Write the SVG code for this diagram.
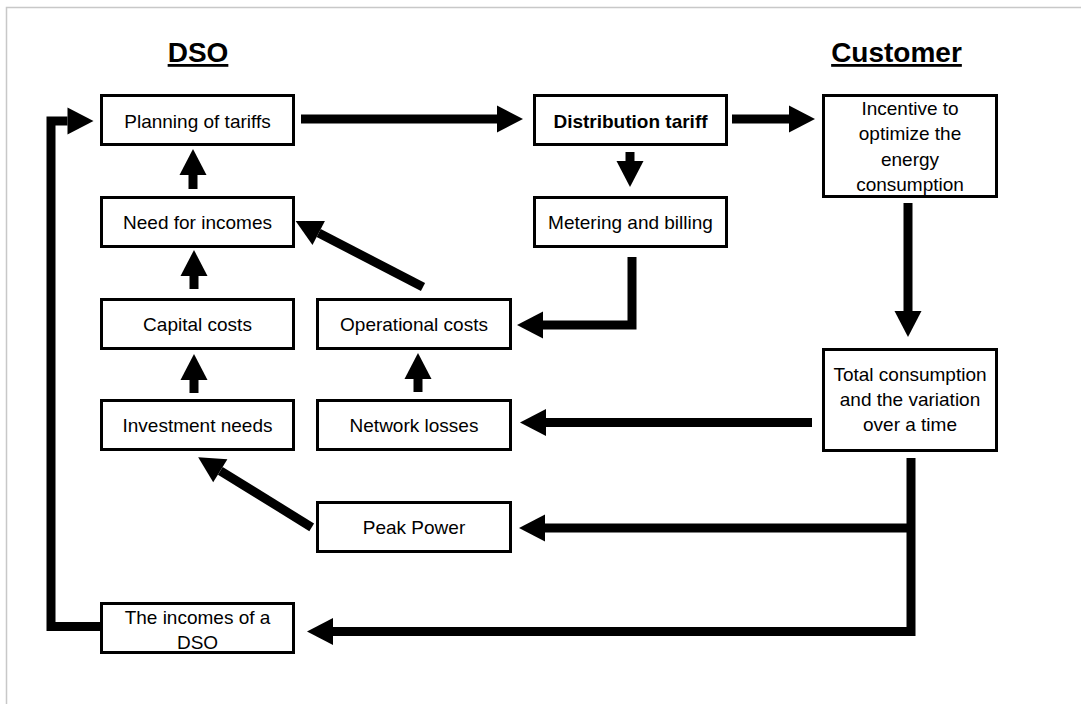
<svg xmlns="http://www.w3.org/2000/svg" width="1081" height="704" viewBox="0 0 1081 704">
  <style>
    .box { fill: #ffffff; stroke: #000000; stroke-width: 3; }
    .lbl { font-family: "Liberation Sans", Arial, sans-serif; font-size: 19px; fill: #000000; text-anchor: middle; }
    .bold { font-weight: bold; }
    .head { font-family: "Liberation Sans", Arial, sans-serif; font-size: 28px; font-weight: bold; fill: #000000; text-anchor: middle; text-decoration: underline; }
    .flow { fill: none; stroke: #000000; stroke-width: 9; stroke-linejoin: miter; stroke-linecap: butt; marker-end: url(#head); }
    .flow-plain { fill: none; stroke: #000000; stroke-width: 9; stroke-linejoin: miter; stroke-linecap: butt; }
  </style>
  <defs>
    <marker id="head" markerUnits="userSpaceOnUse" markerWidth="27" markerHeight="27" refX="0" refY="13.5" orient="auto" overflow="visible">
      <path d="M0,0 L26,13.5 L0,27 Z" fill="#000000"/>
    </marker>
  </defs>

  <!-- page background and frame -->
  <rect x="0" y="0" width="1081" height="704" fill="#ffffff"/>
  <path d="M6.5,704 V7.5 H1081" fill="none" stroke="#c8c8c8" stroke-width="1.5"/>

  <!-- column headings -->
  <g id="heading-dso"><text class="head" x="198" y="62">DSO</text></g>
  <g id="heading-customer"><text class="head" x="896.5" y="62">Customer</text></g>

  <!-- connectors -->
  <g id="connectors">
    <path class="flow" d="M301,119 H497"/>
    <path class="flow" d="M732,119 H789"/>
    <path class="flow" d="M630,152 V161"/>
    <path class="flow" d="M632,257 V325 H543"/>
    <path class="flow" d="M908,203 V311"/>
    <path class="flow" d="M812,422.5 H546"/>
    <path class="flow" d="M911,458 V631.5 H333"/>
    <path class="flow" d="M911,528 H545"/>
    <path class="flow" d="M100,626.5 H51 V121 H67.5"/>
    <path class="flow" d="M193,189 V175"/>
    <path class="flow" d="M194,289 V276"/>
    <path class="flow" d="M194,393 V380"/>
    <path class="flow" d="M418,392 V379"/>
    <path class="flow" d="M423,287 L318.7,233"/>
    <path class="flow" d="M311.7,527.3 L220.3,470.8"/>
  </g>

  <!-- DSO side -->
  <g id="planning-of-tariffs">
    <rect class="box" x="101.5" y="95.5" width="192" height="49"/>
    <text class="lbl" x="197.5" y="128">Planning of tariffs</text>
  </g>
  <g id="need-for-incomes">
    <rect class="box" x="101.5" y="197.5" width="192" height="49"/>
    <text class="lbl" x="197.5" y="229">Need for incomes</text>
  </g>
  <g id="capital-costs">
    <rect class="box" x="101.5" y="299.5" width="192" height="49"/>
    <text class="lbl" x="197.5" y="331">Capital costs</text>
  </g>
  <g id="operational-costs">
    <rect class="box" x="317.5" y="299.5" width="193" height="49"/>
    <text class="lbl" x="414" y="331">Operational costs</text>
  </g>
  <g id="investment-needs">
    <rect class="box" x="101.5" y="400.5" width="192" height="49"/>
    <text class="lbl" x="197.5" y="432">Investment needs</text>
  </g>
  <g id="network-losses">
    <rect class="box" x="317.5" y="400.5" width="193" height="49"/>
    <text class="lbl" x="414" y="432">Network losses</text>
  </g>
  <g id="peak-power">
    <rect class="box" x="317.5" y="502.5" width="193" height="49"/>
    <text class="lbl" x="414" y="534">Peak Power</text>
  </g>
  <g id="incomes-of-dso">
    <rect class="box" x="101.5" y="603.5" width="192" height="49"/>
    <text class="lbl" x="197.5" y="624">The incomes of a</text>
    <text class="lbl" x="197.5" y="649">DSO</text>
  </g>

  <!-- tariff column -->
  <g id="distribution-tariff">
    <rect class="box" x="534.5" y="95.5" width="192" height="49"/>
    <text class="lbl bold" x="630.5" y="128">Distribution tariff</text>
  </g>
  <g id="metering-and-billing">
    <rect class="box" x="534.5" y="197.5" width="192" height="49"/>
    <text class="lbl" x="630.5" y="229">Metering and billing</text>
  </g>

  <!-- Customer side -->
  <g id="incentive">
    <rect class="box" x="823.5" y="95.5" width="173" height="101"/>
    <text class="lbl" x="910" y="115">Incentive to</text>
    <text class="lbl" x="910" y="140">optimize the</text>
    <text class="lbl" x="910" y="165.5">energy</text>
    <text class="lbl" x="910" y="191">consumption</text>
  </g>
  <g id="total-consumption">
    <rect class="box" x="823.5" y="349.5" width="173" height="101"/>
    <text class="lbl" x="910" y="381">Total consumption</text>
    <text class="lbl" x="910" y="406">and the variation</text>
    <text class="lbl" x="910" y="431">over a time</text>
  </g>
</svg>
